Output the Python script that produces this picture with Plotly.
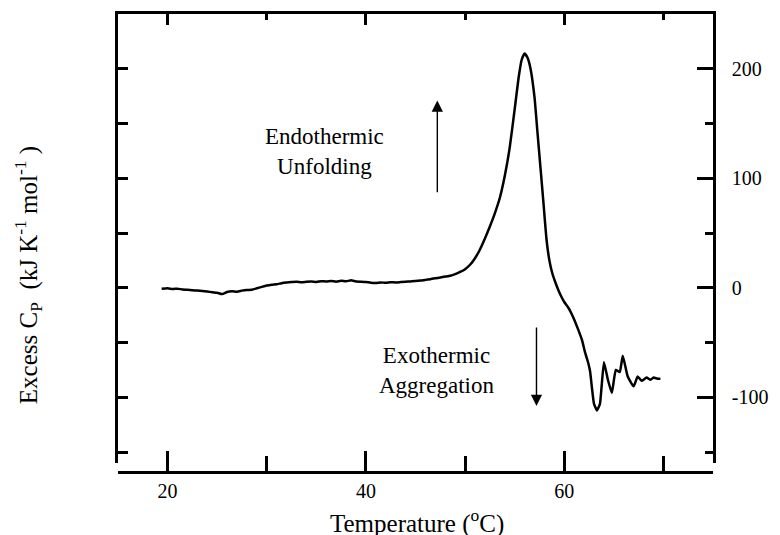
import plotly.graph_objects as go

# Temperature (°C) and excess heat capacity (kJ K^-1 mol^-1)
temperature = [19.4, 20.0, 20.5, 21.0, 21.5, 22.0, 22.5, 23.0, 23.5, 24.0, 24.5, 25.0, 25.5,
               26.0, 26.5, 27.0, 27.5, 28.0, 28.5, 29.0, 29.5, 30.0, 30.5, 31.0, 31.5, 32.0,
               32.5, 33.0, 33.5, 34.0, 34.5, 35.0, 35.5, 36.0, 36.5, 37.0, 37.5, 38.0, 38.5,
               39.0, 39.5, 40.0, 40.5, 41.0, 41.5, 42.0, 42.5, 43.0, 43.5, 44.0, 44.5, 45.0,
               45.5, 46.0, 46.5, 47.0, 47.5, 48.0, 48.5, 49.0, 49.5, 50.0, 50.5, 51.0, 51.5,
               52.0, 52.5, 53.0, 53.5, 54.0, 54.5, 55.0, 55.4, 55.7, 56.0, 56.3, 56.6, 57.0,
               57.3, 57.6, 57.9, 58.2, 58.5, 58.8, 59.1, 59.4, 59.7, 60.0, 60.4, 60.7, 61.0,
               61.4, 61.8, 62.1, 62.4, 62.6, 62.8, 63.0, 63.3, 63.6, 64.0, 64.4, 64.8, 65.2,
               65.6, 65.9, 66.4, 67.0, 67.4, 67.8, 68.3, 68.7, 69.0, 69.4, 69.7]
excess_cp = [-1.0, -0.5, -1.2, -0.8, -1.5, -1.8, -2.2, -2.6, -3.0, -3.5, -4.0, -4.6, -5.8,
             -3.8, -3.2, -3.6, -2.6, -2.0, -1.8, -0.5, 0.8, 2.0, 2.8, 3.2, 4.2, 4.8,
             5.2, 5.6, 5.0, 5.5, 5.8, 5.3, 6.0, 5.7, 6.2, 5.6, 6.4, 5.9, 6.8,
             5.8, 5.5, 5.2, 4.6, 4.4, 4.9, 4.5, 5.1, 4.8, 5.2, 5.6, 5.8, 6.2,
             6.6, 7.2, 7.8, 8.6, 9.4, 10.2, 11.0, 12.5, 14.5, 17.0, 21.0, 27.0, 35.0,
             45.0, 56.0, 68.0, 82.0, 102.0, 128.0, 163.0, 192.0, 208.0, 214.0, 210.0, 200.0, 174.0,
             142.0, 110.0, 78.0, 45.0, 25.0, 13.0, 5.0, -2.0, -8.0, -13.0, -18.0, -23.0, -29.0,
             -38.0, -48.0, -59.0, -68.0, -76.0, -92.0, -106.0, -112.0, -106.0, -68.0, -84.0, -96.0, -75.0,
             -77.0, -62.0, -81.0, -90.0, -81.0, -85.0, -82.0, -84.0, -82.0, -83.0, -83.0]

y_tick_vals = [200, 100, 0, -100]
y_tick_text = ["200", "100", "0", "-100"]

FONT = "Liberation Serif"
X_RANGE = [15, 75]
Y_RANGE = [-160, 250]

fig = go.Figure()
fig.add_trace(go.Scatter(x=temperature, y=excess_cp, mode="lines",
                         line=dict(color="black", width=2.5, shape="spline", smoothing=0.4),
                         showlegend=False, hoverinfo="skip"))
# helper trace for the mirrored frame axes
fig.add_trace(go.Scatter(x=[None], y=[None], xaxis="x2", yaxis="y2",
                         showlegend=False, hoverinfo="skip"))

axis_common = dict(showgrid=False, zeroline=False, showline=True, linecolor="black",
                   linewidth=2.5, tickcolor="black", tickwidth=2.5)

fig.update_layout(
    width=780, height=535,
    margin=dict(l=118, r=67, t=14, b=63),
    paper_bgcolor="white", plot_bgcolor="white",
    font=dict(family=FONT, color="black"),
    xaxis=dict(**axis_common, range=X_RANGE, anchor="free", position=0,
               ticks="inside", tick0=0, dtick=20, ticklen=20,
               minor=dict(ticks="inside", dtick=10, tick0=0, ticklen=15,
                          tickcolor="black", tickwidth=2.5),
               tickfont=dict(size=20, family=FONT)),
    xaxis2=dict(**axis_common, range=X_RANGE, overlaying="x", side="top", anchor="y2",
                ticks="inside", tick0=0, dtick=20, ticklen=11, showticklabels=False,
                minor=dict(ticks="inside", dtick=10, tick0=0, ticklen=6,
                           tickcolor="black", tickwidth=2.5)),
    yaxis=dict(**axis_common, range=Y_RANGE, domain=[0.0197, 1], side="right", anchor="x",
               ticks="inside", tickvals=y_tick_vals, ticktext=y_tick_text, ticklen=16,
               minor=dict(ticks="inside", dtick=50, tick0=0, ticklen=8,
                          tickcolor="black", tickwidth=2.5),
               ticklabelstandoff=12,
               tickfont=dict(size=20, family=FONT)),
    yaxis2=dict(**axis_common, range=Y_RANGE, overlaying="y", side="left", anchor="x2",
                ticks="inside", tick0=0, dtick=50, ticklen=10, showticklabels=False),
)

annotations = [
    dict(text="Temperature (<sup>o</sup>C)", xref="paper", yref="paper", x=0.5025, y=-0.109,
         xanchor="center", yanchor="middle", showarrow=False, font=dict(size=25, family=FONT)),
    dict(text="Excess C<sub>P</sub>  (kJ K<sup>-1</sup> mol<sup>-1</sup> )", xref="paper", yref="paper",
         x=-0.151, y=0.43, xanchor="center", yanchor="middle", textangle=-90, showarrow=False,
         font=dict(size=25, family=FONT)),
    dict(text="Endothermic<br>Unfolding", x=35.8, y=124.3, xref="x", yref="y", showarrow=False,
         xanchor="center", yanchor="middle", font=dict(size=23, family=FONT)),
    dict(text="Exothermic<br>Aggregation", x=47.1, y=-75.2, xref="x", yref="y", showarrow=False,
         xanchor="center", yanchor="middle", font=dict(size=23, family=FONT)),
    dict(text=" ", x=47.2, y=171, ax=47.2, ay=85, xref="x", yref="y", axref="x", ayref="y",
         showarrow=True, arrowhead=2, arrowsize=1.6, arrowwidth=1.4, arrowcolor="black",
         font=dict(size=2)),
    dict(text=" ", x=57.2, y=-108, ax=57.2, ay=-34, xref="x", yref="y", axref="x", ayref="y",
         showarrow=True, arrowhead=2, arrowsize=1.6, arrowwidth=1.4, arrowcolor="black",
         font=dict(size=2)),
]
fig.update_layout(annotations=annotations)

fig.write_html("out.html")
